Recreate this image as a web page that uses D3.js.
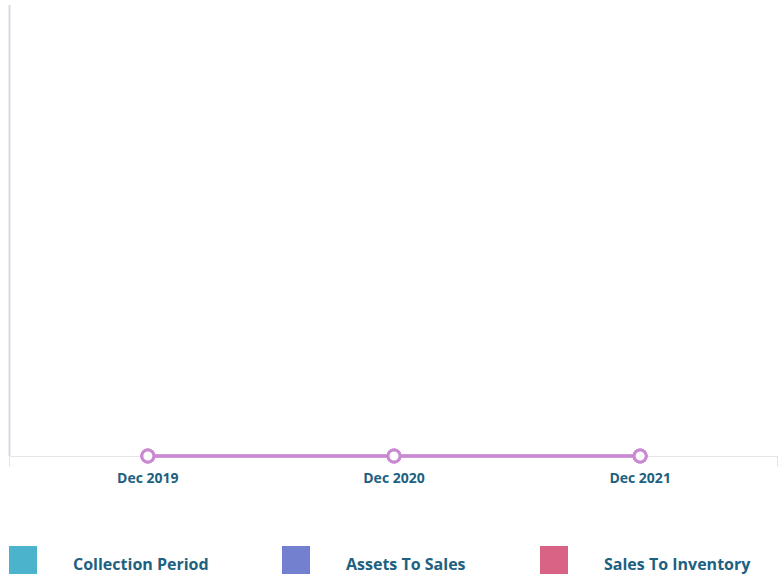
<!DOCTYPE html>
<html>
<head>
<meta charset="utf-8">
<script src="https://cdn.jsdelivr.net/npm/d3@7"></script>
<style>
  body { margin: 0; background: #fff; }
  text { font-family: "Open Sans", sans-serif; font-weight: bold; fill: #1d6180; }
</style>
</head>
<body>
<div id="chart"></div>
<script>
const categories = ["Dec 2019", "Dec 2020", "Dec 2021"];
const seriesNames = ["Collection Period", "Assets To Sales", "Sales To Inventory"];
const seriesColors = ["#4bb3cc", "#737fcf", "#d96384"];
const collectionPeriod = [0, 0, 0];
const assetsToSales = [0, 0, 0];
const salesToInventory = [0, 0, 0];
const seriesValues = [collectionPeriod, assetsToSales, salesToInventory];
const lineColor = "#c98ad1";

const width = 779, height = 585;
const svg = d3.select("#chart").append("svg")
  .attr("width", width)
  .attr("height", height);

const x = d3.scalePoint().domain(categories).range([10, 778]).padding(0.56);
const y = d3.scaleLinear().domain([0, 1]).range([456, 5]);

// y axis line
svg.append("line")
  .attr("x1", 9.5).attr("x2", 9.5)
  .attr("y1", 5).attr("y2", 456)
  .attr("stroke", "#d5dbe6")
  .attr("stroke-width", 2);

// x axis
svg.append("line")
  .attr("x1", 9).attr("x2", 778)
  .attr("y1", 456.5).attr("y2", 456.5)
  .attr("stroke", "#e6e6e6");
[9.5, 777.5].forEach(px => {
  svg.append("line")
    .attr("x1", px).attr("x2", px)
    .attr("y1", 456).attr("y2", 467)
    .attr("stroke", "#e6e6e6");
});

svg.append("g").selectAll("text")
  .data(categories)
  .join("text")
  .attr("x", d => x(d))
  .attr("y", 483)
  .attr("text-anchor", "middle")
  .attr("font-size", 14)
  .text(d => d);

const line = d3.line()
  .x((d, i) => x(categories[i]))
  .y(d => y(d));

seriesValues.forEach(vals => {
  svg.append("path")
    .datum(vals)
    .attr("fill", "none")
    .attr("stroke", lineColor)
    .attr("stroke-width", 3)
    .attr("d", line);
  svg.append("g").selectAll("circle")
    .data(vals)
    .join("circle")
    .attr("cx", (d, i) => x(categories[i]))
    .attr("cy", d => y(d))
    .attr("r", 6)
    .attr("fill", "#fff")
    .attr("stroke", lineColor)
    .attr("stroke-width", 3);
});

// legend
const legendX = [9, 282, 540];
const legend = svg.append("g").selectAll("g")
  .data(seriesNames)
  .join("g")
  .attr("transform", (d, i) => `translate(${legendX[i]},546)`);
legend.append("rect")
  .attr("width", 28).attr("height", 28)
  .attr("fill", (d, i) => seriesColors[i]);
legend.append("text")
  .attr("x", 64)
  .attr("y", 24)
  .attr("font-size", 16)
  .text(d => d);
</script>
</body>
</html>
